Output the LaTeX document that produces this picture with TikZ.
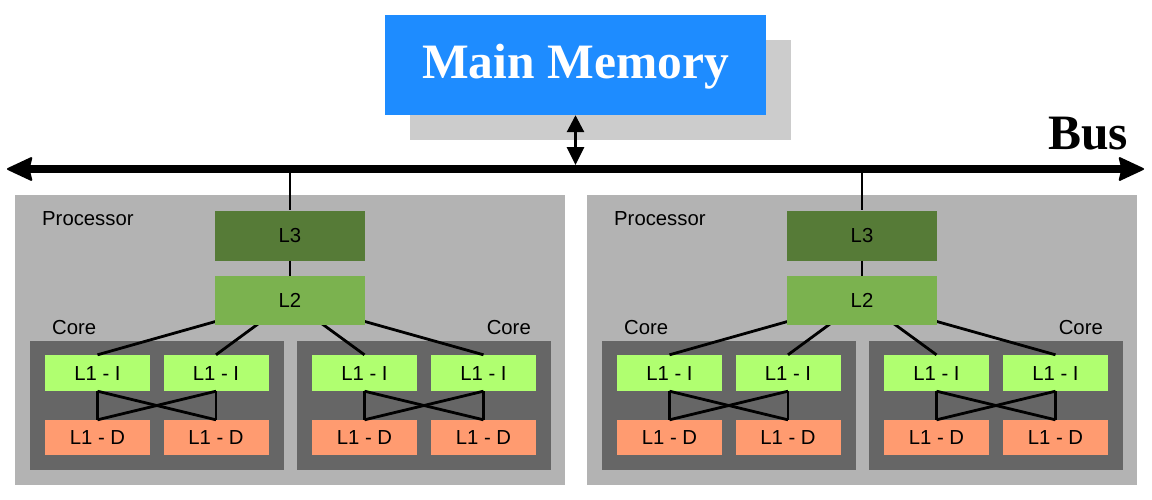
\documentclass[tikz,border=0pt]{standalone}
\usepackage{fontspec}
\setmainfont{Liberation Serif}
\setsansfont{Liberation Sans}
\usetikzlibrary{arrows.meta}

\definecolor{memblue}{HTML}{1E8CFF}
\definecolor{shadowgray}{HTML}{CCCCCC}
\definecolor{procgray}{HTML}{B3B3B3}
\definecolor{coregray}{HTML}{666666}
\definecolor{lthree}{HTML}{567B37}
\definecolor{ltwo}{HTML}{7BB24F}
\definecolor{lonei}{HTML}{B0FF70}
\definecolor{loned}{HTML}{FF9B70}

\tikzset{
  sanslabel/.style={inner sep=0pt, text=black,
    font=\sffamily\fontsize{20.3}{20.3}\selectfont, text height=14.5pt, text depth=0pt},
  plainbox/.style={rectangle, inner sep=0pt, draw=none},
  cachebox/.style={plainbox, sanslabel},
  procbox/.style={plainbox, fill=procgray, minimum width=550pt, minimum height=290pt},
  corebox/.style={plainbox, fill=coregray, minimum width=254pt, minimum height=129pt},
  lthreebox/.style={cachebox, fill=lthree, minimum width=150pt, minimum height=50pt},
  ltwobox/.style={cachebox, fill=ltwo, minimum width=150pt, minimum height=49pt},
  loneibox/.style={cachebox, fill=lonei, minimum width=105pt, minimum height=36pt},
  lonedbox/.style={cachebox, fill=loned, minimum width=105pt, minimum height=35pt},
  wire/.style={draw=black, line width=2.8pt},
  busline/.style={draw=black, line width=8pt,
    {Stealth[length=27pt,width=25pt,inset=3pt,round,line width=2pt]}-{Stealth[length=27pt,width=25pt,inset=3pt,round,line width=2pt]}},
  memlink/.style={draw=black, line width=2.8pt,
    {Triangle[length=17pt,width=17pt]}-{Triangle[length=18pt,width=17pt]}},
  titlefont/.style={font=\bfseries\fontsize{49.5}{49.5}\selectfont}
}

\begin{document}
\begin{tikzpicture}[x=1pt,y=-1pt]
  \useasboundingbox (0,0) rectangle (1152,499);

  % main memory with its drop shadow
  \node[plainbox, fill=shadowgray, minimum width=381pt, minimum height=100pt] (memshadow) at (600.5,90) {};
  \node[plainbox, fill=memblue, minimum width=381pt, minimum height=100pt,
        titlefont, text=white, text height=26pt, text depth=0pt] (mem) at (575.5,65) {Main Memory};

  % the two processors
  \foreach \p/\dx in {A/0,B/572} {
    \node[procbox] (proc\p) at (290+\dx,340) {};
    \node[sanslabel, anchor=west] (proclabel\p) at (42+\dx,218.5) {Processor};
    \node[corebox] (core\p1) at (156.5+\dx,405.5) {};
    \node[corebox] (core\p2) at (424+\dx,405.5) {};
    \node[sanslabel, anchor=west] (corelabel\p1) at (52+\dx,327.5) {Core};
    \node[sanslabel, anchor=east] (corelabel\p2) at (531+\dx,327.5) {Core};

    % first-level caches
    \node[loneibox] (ia\p) at (97.5+\dx,373) {L1 - I};
    \node[loneibox] (ib\p) at (216+\dx,373) {L1 - I};
    \node[loneibox] (ic\p) at (364.5+\dx,373) {L1 - I};
    \node[loneibox] (id\p) at (483.5+\dx,373) {L1 - I};
    \node[lonedbox] (da\p) at (97.5+\dx,437.5) {L1 - D};
    \node[lonedbox] (db\p) at (216+\dx,437.5) {L1 - D};
    \node[lonedbox] (dc\p) at (364.5+\dx,437.5) {L1 - D};
    \node[lonedbox] (dd\p) at (483.5+\dx,437.5) {L1 - D};

    % L2 fans out to every instruction cache (wires start under the L2 box)
    \coordinate (l2mid\p) at (290+\dx,300.5);
    \foreach \c in {ia,ib,ic,id}
      \draw[wire] (l2mid\p) -- (\c\p.north);

    \node[lthreebox] (lthree\p) at (290+\dx,235.5) {L3};
    \node[ltwobox] (ltwo\p) at (290+\dx,300.5) {L2};
    \draw[wire] (lthree\p.south) -- (ltwo\p.north);

    % instruction/data cross links inside each core
    \draw[wire] (ia\p.south) -- (da\p.north);
    \draw[wire] (ib\p.south) -- (db\p.north);
    \draw[wire] (ia\p.south) -- (db\p.north);
    \draw[wire] (ib\p.south) -- (da\p.north);
    \draw[wire] (ic\p.south) -- (dc\p.north);
    \draw[wire] (id\p.south) -- (dd\p.north);
    \draw[wire] (ic\p.south) -- (dd\p.north);
    \draw[wire] (id\p.south) -- (dc\p.north);

    % tap from the bus down to L3
    \coordinate (tap\p) at (290+\dx,169);
    \draw[wire] (tap\p) -- (lthree\p.north);
  }

  % system bus
  \coordinate (busL) at (7,169);
  \coordinate (busR) at (1144,169);
  \draw[busline] (busL) -- (busR);
  \node[titlefont, inner sep=0pt, anchor=base east] (buslabel) at (1128,149) {Bus};

  % memory <-> bus link
  \coordinate (memtap) at (575.5,165);
  \draw[memlink] (mem.south) -- (memtap);
\end{tikzpicture}
\end{document}
